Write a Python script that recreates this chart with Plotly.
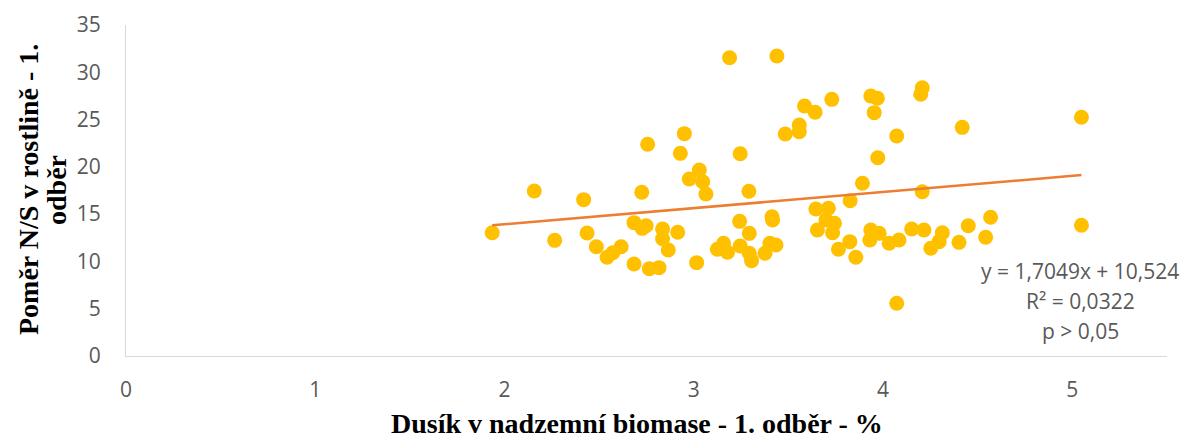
import plotly.graph_objects as go

# Data
dusik = [1.935, 2.157, 2.265, 2.418, 2.436, 2.485, 2.542, 2.572, 2.616, 2.684,
         2.684, 2.725, 2.727, 2.748, 2.756, 2.765, 2.816, 2.835, 2.835, 2.865,
         2.915, 2.929, 2.950, 2.976, 3.015, 3.029, 3.047, 3.064, 3.124, 3.157,
         3.178, 3.189, 3.242, 3.245, 3.245, 3.291, 3.293, 3.293, 3.305, 3.376,
         3.402, 3.413, 3.416, 3.434, 3.439, 3.483, 3.557, 3.557, 3.585, 3.641,
         3.645, 3.653, 3.698, 3.711, 3.729, 3.733, 3.743, 3.764, 3.824, 3.826,
         3.856, 3.891, 3.930, 3.935, 3.935, 3.953, 3.970, 3.972, 3.979, 4.032,
         4.072, 4.072, 4.084, 4.151, 4.199, 4.207, 4.207, 4.216, 4.252, 4.296,
         4.313, 4.401, 4.418, 4.450, 4.542, 4.568, 5.048, 5.048]
pomer_ns = [13.04, 17.45, 12.23, 16.53, 13.01, 11.56, 10.44, 10.92, 11.56, 14.10,
            9.73, 17.31, 13.50, 13.78, 22.39, 9.23, 9.34, 13.43, 12.40, 11.21,
            13.08, 21.43, 23.51, 18.72, 9.87, 19.67, 18.43, 17.13, 11.28, 11.92,
            10.97, 31.54, 14.24, 11.63, 21.39, 17.42, 12.97, 10.86, 10.08, 10.86,
            11.92, 14.73, 14.38, 11.74, 31.72, 23.47, 24.43, 23.72, 26.44, 25.77,
            15.54, 13.32, 14.38, 15.62, 27.14, 13.04, 14.03, 11.28, 12.09, 16.42,
            10.44, 18.26, 12.27, 13.32, 27.49, 25.73, 27.25, 20.97, 12.97, 11.92,
            23.26, 5.57, 12.27, 13.43, 27.67, 28.37, 17.37, 13.32, 11.39, 12.09,
            13.04, 12.02, 24.18, 13.78, 12.55, 14.67, 25.24, 13.82]

slope = 1.7049
intercept = 10.524
x_ticks = [0, 1, 2, 3, 4, 5]
y_ticks = [0, 5, 10, 15, 20, 25, 30, 35]
x_title = "Dusík v nadzemní biomase - 1. odběr - %"
y_title_lines = ["Poměr N/S v rostlině - 1.", "odběr"]
equation_lines = ["y = 1,7049x + 10,524", "R² = 0,0322", "p > 0,05"]

trend_x = [min(dusik), max(dusik)]
trend_y = [slope * v + intercept for v in trend_x]

W, H = 1183, 441
ML, MR, MT, MB = 126, 16, 25, 85
PW, PH = W - ML - MR, H - MT - MB


def px_to_paper(px, py):
    return (px - ML) / PW, 1 - (py - MT) / PH


fig = go.Figure()
fig.add_trace(go.Scatter(
    x=dusik, y=pomer_ns, mode="markers",
    marker=dict(color="#FFC000", size=15, line=dict(width=0)),
    showlegend=False, hoverinfo="x+y"))
fig.add_trace(go.Scatter(
    x=trend_x, y=trend_y, mode="lines",
    line=dict(color="#ED7D31", width=2.5),
    showlegend=False, hoverinfo="skip"))

tick_font = dict(family="Open Sans, Liberation Sans, sans-serif", size=21, color="#595959")
title_font = dict(family="Liberation Serif, Times New Roman, serif", size=28, color="#000000")

fig.update_layout(
    width=W, height=H,
    margin=dict(l=ML, r=MR, t=MT, b=MB, autoexpand=False),
    paper_bgcolor="white", plot_bgcolor="white",
    xaxis=dict(
        range=[0, 5.5], tickvals=x_ticks, ticktext=[str(v) for v in x_ticks],
        showgrid=False, zeroline=False, showline=True, linecolor="#D9D9D9", linewidth=1,
        ticks="", tickfont=tick_font, ticklabelstandoff=15, automargin=False,
    ),
    yaxis=dict(
        range=[0, 35], tickvals=y_ticks, ticktext=[str(v) for v in y_ticks],
        showgrid=False, zeroline=False, showline=True, linecolor="#D9D9D9", linewidth=1,
        ticks="", tickfont=tick_font, ticklabelstandoff=20, automargin=False,
    ),
)

# x-axis title
ax, ay = px_to_paper(637, 423)
fig.add_annotation(x=ax, y=ay, xref="paper", yref="paper", text="<b>" + x_title + "</b>",
                   showarrow=False, font=title_font, xanchor="center", yanchor="middle")

# y-axis title (two rotated lines)
for i, (txt, cx) in enumerate(zip(y_title_lines, [28, 56])):
    ax, ay = px_to_paper(cx, 190)
    fig.add_annotation(x=ax, y=ay, xref="paper", yref="paper", text="<b>" + txt + "</b>",
                       showarrow=False, font=title_font, textangle=-90,
                       xanchor="center", yanchor="middle")

# regression equation
ann_font = dict(family="Open Sans, Liberation Sans, sans-serif", size=21, color="#595959")
for i, txt in enumerate(equation_lines):
    ax, ay = px_to_paper(1080, 271 + 30 * i)
    fig.add_annotation(x=ax, y=ay, xref="paper", yref="paper",
                       text=txt, showarrow=False, font=ann_font,
                       xanchor="center", yanchor="middle")

fig.write_html("out.html")
